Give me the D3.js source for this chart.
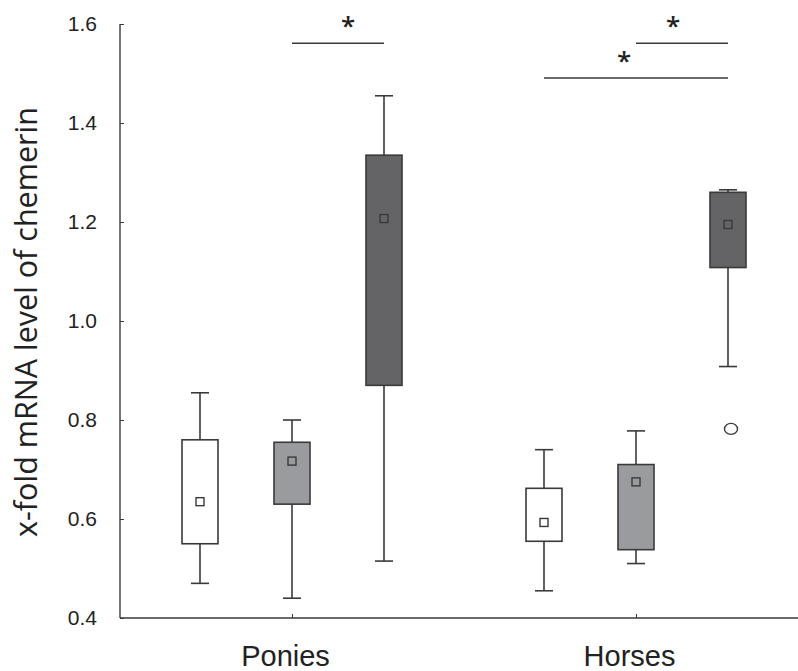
<!DOCTYPE html>
<html>
<head>
<meta charset="utf-8">
<script src="https://cdn.jsdelivr.net/npm/d3@7/dist/d3.min.js"></script>
<style>
  body { margin: 0; background: #fff; }
  svg { font-family: "Open Sans", Lato, sans-serif; }
</style>
</head>
<body>
<div id="chart"></div>
<script>
// groups on the x axis and the three boxes inside each group
var groups = ["Ponies", "Horses"];
var series = ["white", "gray", "dark"];
var fills = { white: "#ffffff", gray: "#9a9b9e", dark: "#646466" };

// box stats, one entry per group, in series order
var whiskerLow  = [[0.47, 0.44, 0.515], [0.455, 0.51, 0.908]];
var boxLow      = [[0.55, 0.63, 0.87],  [0.555, 0.538, 1.108]];
var boxHigh     = [[0.76, 0.755, 1.335], [0.662, 0.71, 1.26]];
var whiskerHigh = [[0.855, 0.80, 1.455], [0.74, 0.778, 1.265]];
var means       = [[0.635, 0.717, 1.207], [0.593, 0.675, 1.195]];

// outliers: [group, series, value]
var outliers = [["Horses", "dark", 0.782]];

// significance bars: [group, from series, to series, level]
var sigBars = [
  ["Ponies", "gray", "dark", 1.561],
  ["Horses", "gray", "dark", 1.561],
  ["Horses", "white", "dark", 1.491]
];
var starShift = [10, -9, -12]; // stars are not centred over their bars
var yTicks = [0.4, 0.6, 0.8, 1.0, 1.2, 1.4, 1.6];

var W = 798, H = 671;
var svg = d3.select("#chart").append("svg")
  .attr("width", W).attr("height", H);

var y = d3.scaleLinear().domain([0.4, 1.6]).range([618, 24]);
var xg = d3.scalePoint().domain(groups).range([292, 636]);
var xs = d3.scalePoint().domain(series).range([-92, 92]);
var boxW = 36, capW = 18;
var ink = "#3a3a3a";

// y axis (ticks point inward)
var yAxis = svg.append("g")
  .attr("transform", "translate(120,0)")
  .call(d3.axisLeft(y).tickValues(yTicks).tickSize(-4).tickPadding(23)
    .tickFormat(d3.format(".1f")));
yAxis.select(".domain").attr("d", "M0," + y(1.6) + "V" + y(0.4)).attr("stroke", ink).attr("stroke-width", 1.4);
yAxis.selectAll(".tick line").attr("stroke", ink);
yAxis.selectAll("text").attr("font-size", 21).attr("fill", "#222");

// x axis
var xAxis = svg.append("g")
  .attr("transform", "translate(0," + y(0.4) + ")")
  .call(d3.axisBottom(xg).tickSize(-4).tickPadding(48));
xAxis.select(".domain").attr("d", "M120,0H798").attr("stroke", ink).attr("stroke-width", 1.4);
xAxis.selectAll(".tick line").attr("stroke", ink);
xAxis.selectAll("text").attr("font-size", 29).attr("fill", "#222")
  .attr("dy", null).attr("dx", -7);

// y label
svg.append("text")
  .attr("transform", "translate(37,322) rotate(-90)")
  .attr("text-anchor", "middle")
  .attr("font-size", 30.5)
  .attr("fill", "#222")
  .text("x-fold mRNA level of chemerin");

// boxes
groups.forEach(function(g, gi) {
  series.forEach(function(s, si) {
    var cx = xg(g) + xs(s);
    var b = svg.append("g").attr("stroke", ink).attr("stroke-width", 1.6);
    b.append("line").attr("x1", cx).attr("x2", cx)
      .attr("y1", y(whiskerHigh[gi][si])).attr("y2", y(boxHigh[gi][si]));
    b.append("line").attr("x1", cx).attr("x2", cx)
      .attr("y1", y(boxLow[gi][si])).attr("y2", y(whiskerLow[gi][si]));
    b.append("line").attr("x1", cx - capW / 2).attr("x2", cx + capW / 2)
      .attr("y1", y(whiskerHigh[gi][si])).attr("y2", y(whiskerHigh[gi][si]));
    b.append("line").attr("x1", cx - capW / 2).attr("x2", cx + capW / 2)
      .attr("y1", y(whiskerLow[gi][si])).attr("y2", y(whiskerLow[gi][si]));
    b.append("rect")
      .attr("x", cx - boxW / 2).attr("width", boxW)
      .attr("y", y(boxHigh[gi][si]))
      .attr("height", y(boxLow[gi][si]) - y(boxHigh[gi][si]))
      .attr("fill", fills[s]);
    b.append("rect")
      .attr("x", cx - 4).attr("y", y(means[gi][si]) - 4)
      .attr("width", 8).attr("height", 8)
      .attr("fill", fills[s]).attr("stroke-width", 1.4);
  });
});

// outliers
outliers.forEach(function(o) {
  svg.append("ellipse")
    .attr("cx", xg(o[0]) + xs(o[1]) + 3)
    .attr("cy", y(o[2]))
    .attr("rx", 6.5).attr("ry", 5.5)
    .attr("fill", "#fff").attr("stroke", ink).attr("stroke-width", 1.4);
});

// significance bars
sigBars.forEach(function(d, i) {
  var x1 = xg(d[0]) + xs(d[1]), x2 = xg(d[0]) + xs(d[2]);
  svg.append("line")
    .attr("x1", x1).attr("x2", x2)
    .attr("y1", y(d[3])).attr("y2", y(d[3]))
    .attr("stroke", ink).attr("stroke-width", 1.4);
  svg.append("text")
    .attr("x", (x1 + x2) / 2 + starShift[i])
    .attr("y", y(d[3]) - 8)
    .attr("text-anchor", "middle")
    .attr("font-size", 26)
    .attr("font-weight", 600)
    .attr("fill", "#222")
    .text("*");
});
</script>
</body>
</html>
